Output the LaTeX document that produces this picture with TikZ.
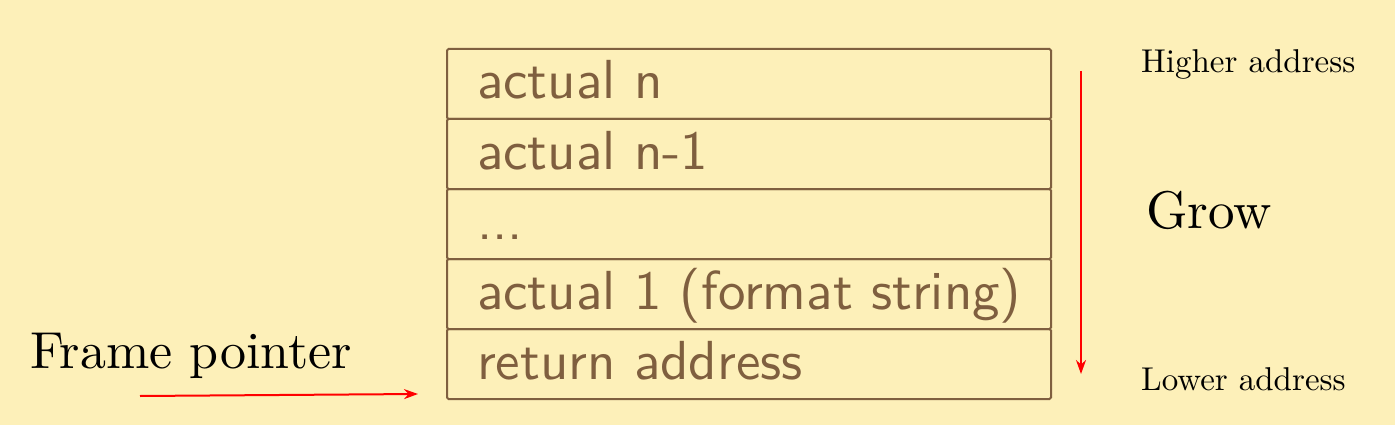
\documentclass[tikz,border=0pt]{standalone}
\usepackage{fontspec}
\usetikzlibrary{arrows.meta}
\newfontfamily\lmssten{lmsans10-regular}[Extension=.otf]
\newfontfamily\lmromten{lmroman10-regular}[Extension=.otf]
\newcommand\rowtxt[1]{\makebox[544pt][l]{#1}}
\definecolor{bgc}{HTML}{FDF0B9}
\definecolor{boxc}{HTML}{7F5F3F}
\definecolor{arrc}{HTML}{FF0000}
\tikzset{
  stackrow/.style={draw=boxc, line width=2pt, rounded corners=1.5pt, anchor=north west,
    minimum width=604pt, minimum height=70pt, inner xsep=30pt, inner ysep=0pt,
    text height=40pt, text depth=10pt, text=boxc,
    font=\lmssten\fontsize{55}{60}\selectfont},
  redarrow/.style={draw=arrc, line width=2pt, -{Stealth[length=14pt,width=10pt]}},
  bigserif/.style={anchor=base west, inner sep=0pt, font=\lmromten\fontsize{52}{56}\selectfont},
  smallserif/.style={anchor=base west, inner sep=0pt, font=\lmromten\fontsize{33}{38}\selectfont}
}
\begin{document}
\begin{tikzpicture}[x=1pt,y=-1pt]
\fill[bgc] (0,0) rectangle (1395,425);
\useasboundingbox (0,0) rectangle (1395,425);
\node[stackrow] (r1) at (446,48) {\rowtxt{actual n}};
\node[stackrow] (r2) at (446,118) {\rowtxt{actual n-1}};
\node[stackrow] (r3) at (446,188) {\rowtxt{...}};
\node[stackrow] (r4) at (446,258) {\rowtxt{actual 1 (format string)}};
\node[stackrow] (r5) at (446,328) {\rowtxt{return address}};
\node[bigserif] (fp) at (30,368) {Frame pointer};
\node[bigserif, font=\lmromten\fontsize{53}{56}\selectfont] (grow) at (1146,228) {Grow};
\node[smallserif] (hi) at (1141,73) {Higher address};
\node[smallserif] (lo) at (1141,390) {Lower address};
\coordinate (fps) at (140,396);
\coordinate (fpe) at (418,394);
\coordinate (gs) at (1081,71);
\coordinate (ge) at (1081,374);
\draw[redarrow] (fps) -- (fpe);
\draw[redarrow] (gs) -- (ge);
\end{tikzpicture}
\end{document}
